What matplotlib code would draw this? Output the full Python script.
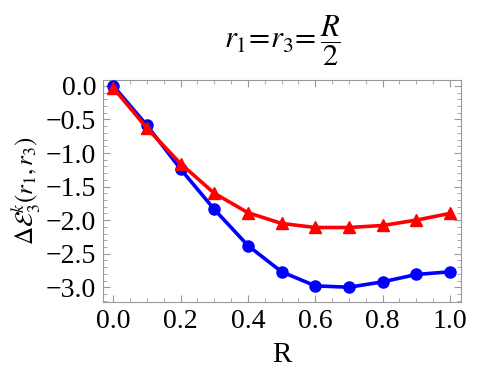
import matplotlib
matplotlib.use("Agg")
import matplotlib.pyplot as plt
from matplotlib.ticker import MultipleLocator

R = [0.0, 0.1, 0.2, 0.3, 0.4, 0.5, 0.6, 0.7, 0.8, 0.9, 1.0]
blue_vals = [0.0, -0.59, -1.24, -1.84, -2.38, -2.77, -2.98, -3.00, -2.92, -2.81, -2.77]
red_vals = [-0.03, -0.63, -1.16, -1.60, -1.89, -2.05, -2.11, -2.11, -2.08, -2.00, -1.90]
xticks = [0.0, 0.2, 0.4, 0.6, 0.8, 1.0]
yticks = [0.0, -0.5, -1.0, -1.5, -2.0, -2.5, -3.0]

plt.rcParams['font.family'] = ['Liberation Serif', 'DejaVu Serif']
plt.rcParams['mathtext.fontset'] = 'stix'

fig = plt.figure(figsize=(5, 3.7), dpi=100)
ax = fig.add_axes([0.206, 0.184, 0.716, 0.600])

ax.plot(R, blue_vals, color=(0, 0, 1), lw=2.6, marker='o', ms=8, zorder=3)
ax.plot(R, red_vals, color=(1, 0, 0), lw=2.6, marker='^', ms=8, zorder=4)

ax.set_xlim(-0.0306, 1.0327)
ax.set_ylim(-3.219, 0.089)
ax.set_xticks(xticks)
ax.set_xticklabels([f"{t:.1f}" for t in xticks])
ax.set_yticks(yticks)
ax.set_yticklabels([f"{t:.1f}".replace('-', '\u2212') if t != 0 else "0.0" for t in yticks])
ax.xaxis.set_minor_locator(MultipleLocator(0.05))
ax.yaxis.set_minor_locator(MultipleLocator(0.1))

frame_c = '#999999'
for s in ax.spines.values():
    s.set_color(frame_c)
    s.set_linewidth(0.8)
ax.tick_params(which='both', direction='in', top=True, right=True, color=frame_c, labelsize=20, pad=5)
ax.tick_params(which='major', length=5, width=0.8)
ax.tick_params(which='minor', length=2.8, width=0.6)

ax.set_xlabel('R', fontsize=21, labelpad=6)
ax.set_ylabel(r'$\Delta\mathcal{E}_3^k(r_1,r_3)$', fontsize=18, labelpad=2)
ax.set_title(r'$r_1\!=\!r_3\!=\!\,\dfrac{R}{2}$', fontsize=22, pad=23)

fig.savefig('out.png', dpi=100)
